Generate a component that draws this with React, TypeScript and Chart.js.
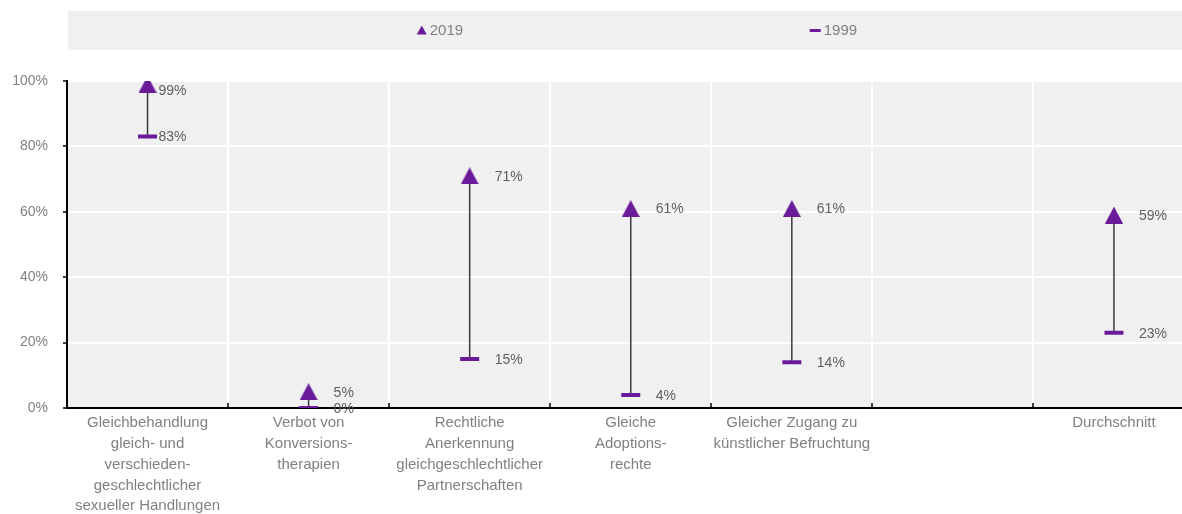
import { useEffect, useRef } from 'react';
import { Chart, registerables } from 'chart.js';

Chart.register(...registerables);

// Category labels (multi-line), one empty slot before the average
const categories: string[][] = [
  ['Gleichbehandlung', 'gleich- und', 'verschieden-', 'geschlechtlicher', 'sexueller Handlungen'],
  ['Verbot von', 'Konversions-', 'therapien'],
  ['Rechtliche', 'Anerkennung', 'gleichgeschlechtlicher', 'Partnerschaften'],
  ['Gleiche', 'Adoptions-', 'rechte'],
  ['Gleicher Zugang zu', 'künstlicher Befruchtung'],
  [''],
  ['Durchschnitt'],
];

const seriesNames = ['2019', '1999'];
const values2019: (number | null)[] = [99, 5, 71, 61, 61, null, 59];
const values1999: (number | null)[] = [83, 0, 15, 4, 14, null, 23];
const yTicks = [0, 20, 40, 60, 80, 100];

const PURPLE = '#6a1b9a';
const FONT = "'Liberation Sans', Arial, sans-serif";
const AXIS_TEXT = '#808080';
const LABEL_TEXT = '#5f5f5f';
const PANEL = '#f0f0f0';

function makeTriangle(w: number, h: number, color: string): HTMLCanvasElement {
  const c = document.createElement('canvas');
  c.width = w;
  c.height = h;
  const g = c.getContext('2d')!;
  g.fillStyle = color;
  g.beginPath();
  g.moveTo(w / 2, 0);
  g.lineTo(w, h);
  g.lineTo(0, h);
  g.closePath();
  g.fill();
  return c;
}

export default function App() {
  const canvasRef = useRef<HTMLCanvasElement | null>(null);

  useEffect(() => {
    const canvas = canvasRef.current;
    if (!canvas) return;

    const triangle = makeTriangle(18, 17, PURPLE);

    // plot panel background
    const panelBg = {
      id: 'panelBg',
      beforeDraw(chart: any) {
        const { ctx, chartArea } = chart;
        ctx.save();
        ctx.fillStyle = PANEL;
        ctx.fillRect(chartArea.left, chartArea.top, chartArea.right - chartArea.left, chartArea.bottom - chartArea.top);
        ctx.restore();
      },
    };

    // vertical connectors between the two years
    const connectors = {
      id: 'connectors',
      beforeDatasetsDraw(chart: any) {
        const { ctx } = chart;
        const x = chart.scales.x;
        const y = chart.scales.y;
        ctx.save();
        ctx.strokeStyle = '#3a3a3a';
        ctx.lineWidth = 1.5;
        values2019.forEach((v, i) => {
          const w = values1999[i];
          if (v == null || w == null) return;
          const px = x.getPixelForValue(i);
          ctx.beginPath();
          ctx.moveTo(px, y.getPixelForValue(w));
          ctx.lineTo(px, y.getPixelForValue(v));
          ctx.stroke();
        });
        ctx.restore();
      },
    };

    // value labels, inward x tick marks and the legend band
    const extras = {
      id: 'extras',
      afterDatasetsDraw(chart: any) {
        const { ctx, chartArea } = chart;
        const x = chart.scales.x;
        const y = chart.scales.y;
        ctx.save();
        ctx.font = `14px ${FONT}`;
        ctx.fillStyle = LABEL_TEXT;
        ctx.textAlign = 'left';
        ctx.textBaseline = 'middle';
        [values2019, values1999].forEach((arr) => {
          arr.forEach((v, i) => {
            if (v == null) return;
            const px = x.getPixelForValue(i) + (i === 0 ? 11 : 25);
            const py = Math.max(y.getPixelForValue(v) + 1, chartArea.top + 10);
            ctx.fillText(`${v}%`, px, py);
          });
        });
        ctx.restore();
      },
      afterDraw(chart: any) {
        const { ctx, chartArea, width } = chart;
        const x = chart.scales.x;
        ctx.save();
        // inward tick marks on the category axis
        ctx.strokeStyle = '#000';
        ctx.lineWidth = 1.5;
        for (let i = 1; i < categories.length; i++) {
          const bx = Math.round((x.getPixelForValue(i - 1) + x.getPixelForValue(i)) / 2);
          ctx.beginPath();
          ctx.moveTo(bx, chartArea.bottom);
          ctx.lineTo(bx, chartArea.bottom - 5);
          ctx.stroke();
        }
        // legend band
        const top = 11;
        const h = 39;
        ctx.fillStyle = PANEL;
        ctx.fillRect(chartArea.left + 1, top, width - chartArea.left - 1, h);
        const cx = (chartArea.left + chartArea.right) / 2;
        const cy = top + h / 2;
        ctx.font = `15px ${FONT}`;
        ctx.textAlign = 'left';
        ctx.textBaseline = 'middle';
        // 2019 entry
        const x1 = cx - 214;
        ctx.fillStyle = PURPLE;
        ctx.beginPath();
        ctx.moveTo(x1 + 5, cy - 5);
        ctx.lineTo(x1 + 10, cy + 4);
        ctx.lineTo(x1, cy + 4);
        ctx.closePath();
        ctx.fill();
        ctx.fillStyle = AXIS_TEXT;
        ctx.fillText(seriesNames[0], x1 + 13, cy);
        // 1999 entry
        const x2 = cx + 179;
        ctx.fillStyle = PURPLE;
        ctx.fillRect(x2, cy - 1.5, 11, 3);
        ctx.fillStyle = AXIS_TEXT;
        ctx.fillText(seriesNames[1], x2 + 14, cy);
        ctx.restore();
      },
    };

    const chart = new Chart(canvas, {
      type: 'line',
      data: {
        labels: categories,
        datasets: [
          {
            label: seriesNames[0],
            data: values2019,
            showLine: false,
            pointStyle: triangle as any,
            pointRadius: 9,
            pointBackgroundColor: PURPLE,
            pointBorderColor: PURPLE,
          },
          {
            label: seriesNames[1],
            data: values1999,
            showLine: false,
            pointStyle: 'line',
            pointRadius: 9.5,
            pointBorderWidth: 4,
            pointBorderColor: PURPLE,
            pointBackgroundColor: PURPLE,
          },
        ],
      },
      options: {
        responsive: false,
        animation: false,
        layout: { padding: { top: 81, left: 0, right: 5, bottom: 0 } },
        plugins: {
          legend: { display: false },
          tooltip: { enabled: false },
        },
        scales: {
          x: {
            offset: true,
            afterFit: (s: any) => {
              s.height = 106;
            },
            grid: {
              offset: true,
              color: '#ffffff',
              lineWidth: 2,
              drawTicks: false,
            },
            border: { display: true, color: '#000000', width: 2 },
            ticks: {
              color: AXIS_TEXT,
              padding: 5,
              autoSkip: false,
              maxRotation: 0,
              font: { family: FONT, size: 15, lineHeight: 1.38 },
            },
          },
          y: {
            min: 0,
            max: 100,
            afterFit: (s: any) => {
              s.width = 67;
            },
            afterBuildTicks: (s: any) => {
              s.ticks = yTicks.map((v) => ({ value: v }));
            },
            grid: {
              color: '#ffffff',
              lineWidth: 2,
              tickColor: '#000000',
              tickLength: 4,
              tickWidth: 1.5,
            },
            border: { display: true, color: '#000000', width: 2 },
            ticks: {
              color: AXIS_TEXT,
              padding: 15,
              font: { family: FONT, size: 14 },
              callback: (v: any) => `${v}%`,
            },
          },
        },
      },
      plugins: [panelBg, connectors, extras],
    });

    return () => chart.destroy();
  }, []);

  return (
    <div style={{ position: 'fixed', left: 0, top: 0, width: 1182, height: 514, overflow: 'hidden', background: '#fff' }}>
      <canvas ref={canvasRef} width={1208} height={514} style={{ display: 'block' }} />
    </div>
  );
}
